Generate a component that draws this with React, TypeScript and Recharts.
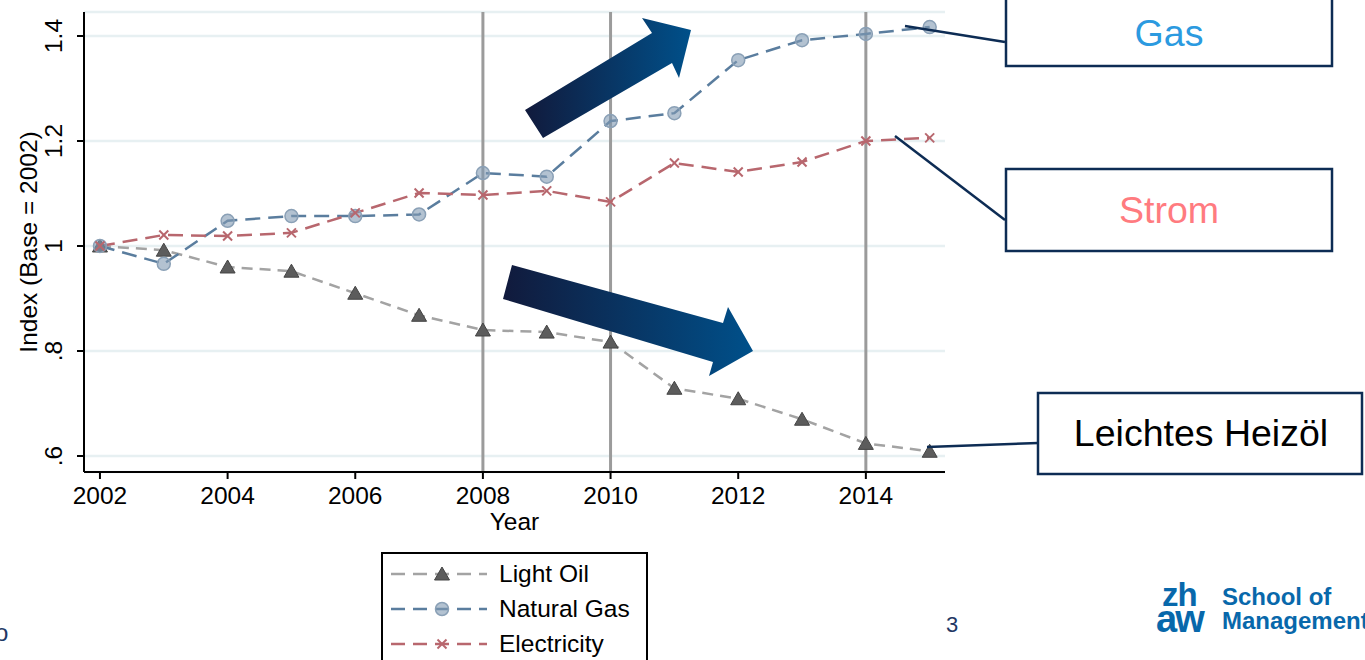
import {
  LineChart,
  Line,
  XAxis,
  YAxis,
  CartesianGrid,
  ReferenceLine,
  Legend,
} from "recharts";

const FONT = '"Liberation Sans", Arial, sans-serif';

// values (index, base 2002 = 1)
const years = [2002, 2003, 2004, 2005, 2006, 2007, 2008, 2009, 2010, 2011, 2012, 2013, 2014, 2015];
const lightOil = [1.0, 0.992, 0.96, 0.952, 0.91, 0.868, 0.84, 0.836, 0.817, 0.729, 0.709, 0.67, 0.624, 0.609];
const naturalGas = [1.0, 0.966, 1.048, 1.057, 1.057, 1.06, 1.139, 1.132, 1.238, 1.253, 1.354, 1.392, 1.404, 1.417];
const electricity = [1.0, 1.021, 1.019, 1.025, 1.063, 1.101, 1.097, 1.105, 1.084, 1.158, 1.141, 1.16, 1.2, 1.206];

const xTicks = [2002, 2004, 2006, 2008, 2010, 2012, 2014];
const yTicks = [0.6, 0.8, 1, 1.2, 1.4];
const yTickLabels = [".6", ".8", "1", "1.2", "1.4"];
const markerYears = [2008, 2010, 2014];

const data = years.map((year, i) => ({
  year,
  oil: lightOil[i],
  gas: naturalGas[i],
  elec: electricity[i],
}));

const series = [
  { key: "oil", name: "Light Oil", color: "#a3a3a3", dash: "11 7", marker: "triangle" },
  { key: "gas", name: "Natural Gas", color: "#5a7d9e", dash: "15 8", marker: "circle" },
  { key: "elec", name: "Electricity", color: "#b8676e", dash: "15 8", marker: "cross" },
];

function Marker({ type, cx, cy }: { type: string; cx: number; cy: number }) {
  if (cx == null || cy == null) return null;
  if (type === "triangle") {
    return (
      <polygon
        points={`${cx},${cy - 7} ${cx - 7.5},${cy + 6} ${cx + 7.5},${cy + 6}`}
        fill="#5c5c5c"
        stroke="#444"
        strokeWidth={1}
      />
    );
  }
  if (type === "circle") {
    return (
      <circle cx={cx} cy={cy} r={6.5} fill="#8199b2" fillOpacity={0.6} stroke="#8aa0b6" strokeWidth={1.5} />
    );
  }
  return (
    <g stroke="#b8676e" strokeWidth={2}>
      <line x1={cx - 4.5} y1={cy - 4.5} x2={cx + 4.5} y2={cy + 4.5} />
      <line x1={cx - 4.5} y1={cy + 4.5} x2={cx + 4.5} y2={cy - 4.5} />
    </g>
  );
}

function XTick({ x, y, payload }: any) {
  return (
    <text x={x} y={y + 23} textAnchor="middle" fontSize={24.5} fontFamily={FONT} fill="#000">
      {payload.value}
    </text>
  );
}

function YTick({ x, y, payload }: any) {
  const idx = yTicks.indexOf(payload.value);
  const lx = x - 13;
  return (
    <text
      x={lx}
      y={y}
      transform={`rotate(-90, ${lx}, ${y})`}
      textAnchor="middle"
      fontSize={24.5}
      fontFamily={FONT}
      fill="#000"
    >
      {idx >= 0 ? yTickLabels[idx] : payload.value}
    </text>
  );
}

function LegendBox() {
  return (
    <svg width={268} height={120} style={{ display: "block" }}>
      <rect x={1} y={1} width={265} height={130} fill="#fff" stroke="#000" strokeWidth={2} />
      {series.map((s, i) => {
        const cy = 22 + i * 35;
        return (
          <g key={s.key}>
            <line x1={10} y1={cy} x2={106} y2={cy} stroke={s.color} strokeWidth={2.5} strokeDasharray="14 8" />
            <Marker type={s.marker} cx={61} cy={cy} />
            <text x={118} y={cy + 8} fontSize={24.5} fontFamily={FONT} fill="#000">
              {s.name}
            </text>
          </g>
        );
      })}
    </svg>
  );
}

function Overlay() {
  const box = "#0d2c54";
  return (
    <svg
      width={1365}
      height={660}
      style={{ position: "absolute", left: 0, top: 0, pointerEvents: "none" }}
    >
      <defs>
        <linearGradient id="arrowGrad" x1="0" y1="0" x2="1" y2="0">
          <stop offset="0%" stopColor="#111a3c" />
          <stop offset="100%" stopColor="#00508a" />
        </linearGradient>
      </defs>
      {/* trend arrows */}
      <polygon
        points="525,110 652,33 642,18 691,30 679,78 672,63 543,138"
        fill="url(#arrowGrad)"
      />
      <polygon
        points="512,265 723,323 728,307 753,351 709,376 713,362 503,299"
        fill="url(#arrowGrad)"
      />
      {/* connectors */}
      <line x1={905} y1={26} x2={1005} y2={42} stroke={box} strokeWidth={2.5} />
      <line x1={895} y1={136} x2={1005} y2={220} stroke={box} strokeWidth={2.5} />
      <line x1={927} y1={447} x2={1038} y2={443} stroke={box} strokeWidth={2.5} />
      {/* annotation boxes */}
      <rect x={1006} y={-2} width={326} height={68} fill="#fff" stroke={box} strokeWidth={2.5} />
      <text x={1169} y={46} textAnchor="middle" fontSize={37.5} fontFamily={FONT} fill="#2b9ae0">
        Gas
      </text>
      <rect x={1006} y={169} width={326} height={82} fill="#fff" stroke={box} strokeWidth={2.5} />
      <text x={1169} y={223} textAnchor="middle" fontSize={37.5} fontFamily={FONT} fill="#ff7b7f">
        Strom
      </text>
      <rect x={1038} y={393} width={324} height={81} fill="#fff" stroke={box} strokeWidth={2.5} />
      <text x={1201} y={446} textAnchor="middle" fontSize={37.5} fontFamily={FONT} fill="#000">
        Leichtes Heizöl
      </text>
      {/* footer bits */}
      <text x={-5} y={641} fontSize={24} fontFamily={FONT} fill="#1f3864">
        o
      </text>
      <text x={946} y={632} fontSize={22} fontFamily={FONT} fill="#1f3864">
        3
      </text>
      <g fill="#0868ab" fontFamily={FONT} fontWeight="bold">
        <text x={1162} y={606} fontSize={33} letterSpacing={-1}>
          zh
        </text>
        <text x={1156} y={632} fontSize={38} letterSpacing={-2}>
          aw
        </text>
        <text x={1222} y={605} fontSize={24}>
          School of
        </text>
        <text x={1222} y={629} fontSize={24}>
          Management
        </text>
      </g>
    </svg>
  );
}

export default function App() {
  return (
    <div
      style={{
        position: "absolute",
        left: 0,
        top: 0,
        width: 1365,
        height: 660,
        overflow: "hidden",
        background: "#fff",
      }}
    >
      <LineChart
        width={1365}
        height={660}
        data={data}
        margin={{ top: 12, right: 420, bottom: 148, left: 0 }}
      >
        <CartesianGrid horizontal vertical={false} stroke="#e7f0f2" strokeWidth={2.5} />
        <XAxis
          type="number"
          dataKey="year"
          domain={[2001.75, 2015.24]}
          ticks={xTicks}
          allowDataOverflow
          height={40}
          tickSize={7}
          tick={<XTick />}
          axisLine={{ stroke: "#000", strokeWidth: 2 }}
          tickLine={{ stroke: "#000", strokeWidth: 2 }}
          label={{
            content: ({ viewBox }: any) => (
              <text
                x={viewBox.x + viewBox.width / 2}
                y={viewBox.y + 58}
                textAnchor="middle"
                fontSize={24.5}
                fontFamily={FONT}
                fill="#000"
              >
                Year
              </text>
            ),
          }}
        />
        <YAxis
          type="number"
          domain={[0.5695, 1.4457]}
          ticks={yTicks}
          allowDataOverflow
          width={84}
          tickSize={7}
          tick={<YTick />}
          axisLine={{ stroke: "#000", strokeWidth: 2 }}
          tickLine={{ stroke: "#000", strokeWidth: 2 }}
          label={{
            content: ({ viewBox }: any) => {
              const cx = 37;
              const cy = viewBox.y + viewBox.height / 2;
              return (
                <text
                  x={cx}
                  y={cy}
                  transform={`rotate(-90, ${cx}, ${cy})`}
                  textAnchor="middle"
                  fontSize={24.5}
                  fontFamily={FONT}
                  fill="#000"
                >
                  Index (Base = 2002)
                </text>
              );
            },
          }}
        />
        {markerYears.map((yr) => (
          <ReferenceLine key={yr} x={yr} stroke="#9b9b9b" strokeWidth={3} />
        ))}
        {series.map((s) => (
          <Line
            key={s.key}
            type="linear"
            dataKey={s.key}
            name={s.name}
            stroke={s.color}
            strokeWidth={2.5}
            strokeDasharray={s.dash}
            isAnimationActive={false}
            dot={(p: any) => <Marker key={`${s.key}-${p.index}`} type={s.marker} cx={p.cx} cy={p.cy} />}
            activeDot={false}
          />
        ))}
        <Legend
          layout="vertical"
          align="center"
          verticalAlign="middle"
          content={() => <LegendBox />}
          wrapperStyle={{ position: "absolute", left: 381, top: 552, width: 268, height: 120 }}
        />
      </LineChart>
      <Overlay />
    </div>
  );
}
